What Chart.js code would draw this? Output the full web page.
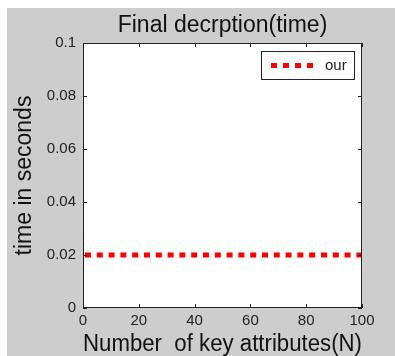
<!DOCTYPE html>
<html>
<head>
<meta charset="utf-8">
<script src="https://cdn.jsdelivr.net/npm/chart.js@4"></script>
<style>
  html, body { margin: 0; padding: 0; background: #fff; }
  #wrap { width: 395px; height: 356px; }
</style>
</head>
<body>
<div id="wrap"><canvas id="timeChart" width="395" height="356"></canvas></div>
<script>
// data
const attrN = [0, 10, 20, 30, 40, 50, 60, 70, 80, 90, 100];
const ourTime = [0.02, 0.02, 0.02, 0.02, 0.02, 0.02, 0.02, 0.02, 0.02, 0.02, 0.02];
const xTickLabels = ['0', '20', '40', '60', '80', '100'];
const yTickLabels = ['0', '0.02', '0.04', '0.06', '0.08', '0.1'];

const FONT = 'Arial, "Liberation Sans", sans-serif';

// gray figure background, white axes box, inward ticks and legend (matlab look)
const matlabLook = {
  id: 'matlabLook',
  beforeDraw(chart) {
    const c = chart.ctx, a = chart.chartArea;
    c.save();
    c.fillStyle = '#fff';
    c.fillRect(0, 0, chart.width, chart.height);
    c.fillStyle = '#cdcdcd';
    c.fillRect(7, 8, chart.width - 7, chart.height - 8);
    c.fillStyle = '#fff';
    c.fillRect(a.left, a.top, a.right - a.left, a.bottom - a.top);
    c.restore();
  },
  afterDraw(chart) {
    const c = chart.ctx, a = chart.chartArea;
    const xs = chart.scales.x, ys = chart.scales.y;
    c.save();
    c.strokeStyle = '#222';
    c.lineWidth = 1;
    c.strokeRect(a.left + 0.5, a.top + 0.5, a.right - a.left - 1, a.bottom - a.top - 1);
    c.beginPath();
    xs.ticks.forEach(t => {
      const px = Math.round(xs.getPixelForValue(t.value)) + 0.5;
      c.moveTo(px, a.bottom); c.lineTo(px, a.bottom - 4);
      c.moveTo(px, a.top); c.lineTo(px, a.top + 4);
    });
    ys.ticks.forEach(t => {
      const py = Math.round(ys.getPixelForValue(t.value)) + 0.5;
      c.moveTo(a.left, py); c.lineTo(a.left + 4, py);
      c.moveTo(a.right, py); c.lineTo(a.right - 4, py);
    });
    c.stroke();

    // legend
    const ds = chart.data.datasets[0];
    c.fillStyle = '#fff';
    c.fillRect(261, 51, 94, 29);
    c.strokeStyle = '#222';
    c.strokeRect(261.5, 51.5, 93, 28);
    c.strokeStyle = ds.borderColor;
    c.lineWidth = 5;
    c.setLineDash([6, 6]);
    c.beginPath();
    c.moveTo(271, 65.5); c.lineTo(314, 65.5);
    c.stroke();
    c.setLineDash([]);
    c.fillStyle = '#222';
    c.font = '15px ' + FONT;
    c.textBaseline = 'middle';
    c.fillText(ds.label, 325, 66);
    c.restore();
  }
};

new Chart(document.getElementById('timeChart'), {
  type: 'line',
  data: {
    datasets: [{
      label: 'our',
      data: attrN.map((n, i) => ({ x: n, y: ourTime[i] })),
      borderColor: '#ff0000',
      borderWidth: 5,
      borderDash: [6, 5.8],
      borderDashOffset: -2,
      borderCapStyle: 'butt',
      pointRadius: 0,
      fill: false
    }]
  },
  options: {
    responsive: false,
    animation: false,
    layout: { padding: { left: 0, right: 33, top: 0, bottom: 0 } },
    plugins: {
      legend: { display: false },
      tooltip: { enabled: false },
      title: {
        display: true,
        fullSize: false,
        text: 'Final decrption(time)',
        color: '#111',
        font: { family: FONT, size: 23, weight: 'normal', lineHeight: 1.2 },
        padding: { top: 12, bottom: 3.4 }
      }
    },
    scales: {
      x: {
        type: 'linear',
        min: 0, max: 100,
        afterFit(s) { s.height = 48; },
        grid: { display: false, drawTicks: false },
        border: { display: false },
        ticks: {
          stepSize: 20,
          padding: 4,
          color: '#222',
          font: { family: FONT, size: 15 },
          maxRotation: 0,
          callback: (v, i) => xTickLabels[i]
        },
        title: {
          display: true,
          text: 'Number  of key attributes(N)',
          color: '#111',
          font: { family: FONT, size: 23, lineHeight: 1.2 },
          padding: { top: 0, bottom: -2 }
        }
      },
      y: {
        min: 0, max: 0.1,
        afterFit(s) { s.width = 83; },
        grid: { display: false, drawTicks: false },
        border: { display: false },
        ticks: {
          stepSize: 0.02,
          padding: 7,
          color: '#222',
          font: { family: FONT, size: 15 },
          callback: (v, i) => yTickLabels[i]
        },
        title: {
          display: true,
          text: 'time in seconds',
          color: '#111',
          font: { family: FONT, size: 23, lineHeight: 1.2 },
          padding: { top: 11, bottom: 0 }
        }
      }
    }
  },
  plugins: [matlabLook]
});
</script>
</body>
</html>
